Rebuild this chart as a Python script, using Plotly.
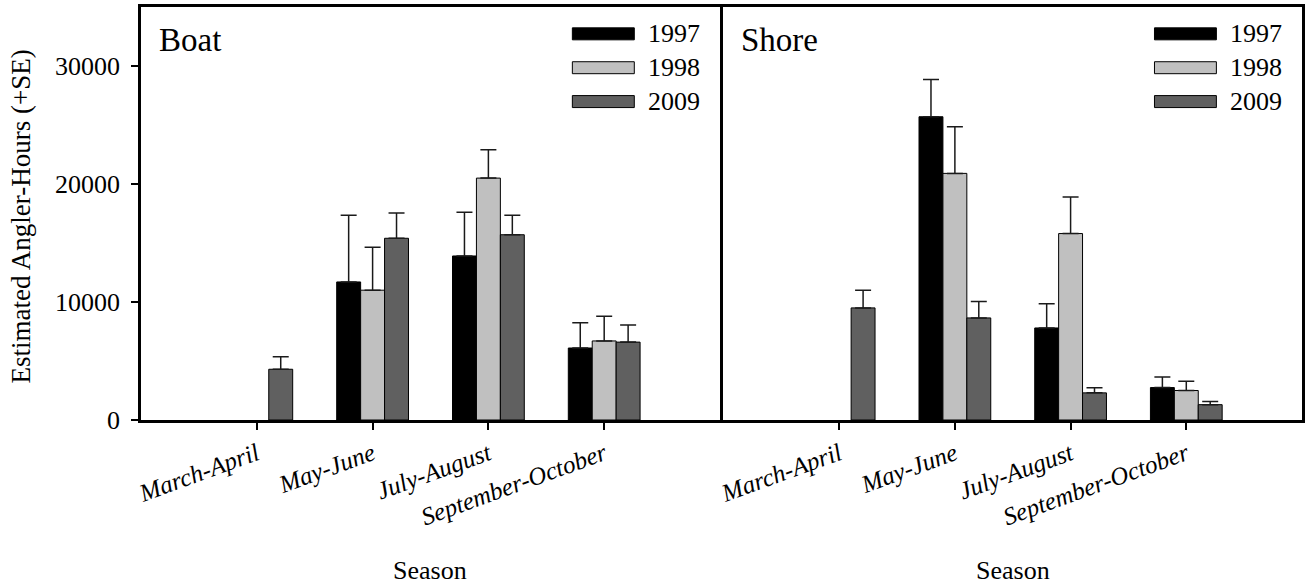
import plotly.graph_objects as go
from plotly.subplots import make_subplots

seasons = ["March-April", "May-June", "July-August", "September-October"]
years = ["1997", "1998", "2009"]
colors = ["#000000", "#c0c0c0", "#606060"]

# Boat: estimated angler-hours and SE
boat_1997 = [None, 11700, 13900, 6100]
boat_1998 = [None, 11000, 20500, 6700]
boat_2009 = [4300, 15400, 15700, 6600]
boat_se_1997 = [0, 5650, 3700, 2150]
boat_se_1998 = [0, 3650, 2400, 2100]
boat_se_2009 = [1050, 2150, 1650, 1450]

# Shore
shore_1997 = [None, 25700, 7800, 2750]
shore_1998 = [None, 20900, 15800, 2500]
shore_2009 = [9500, 8650, 2300, 1300]
shore_se_1997 = [0, 3150, 2050, 900]
shore_se_1998 = [0, 3950, 3100, 790]
shore_se_2009 = [1500, 1400, 430, 260]

y_ticks = [0, 10000, 20000, 30000]
y_ticktext = ["0", "10000", "20000", "30000"]

FONT = "Liberation Serif, Times New Roman, serif"

fig = make_subplots(rows=1, cols=2, shared_yaxes=True, horizontal_spacing=0.003)

panels = [
  ([boat_1997, boat_1998, boat_2009], [boat_se_1997, boat_se_1998, boat_se_2009]),
  ([shore_1997, shore_1998, shore_2009], [shore_se_1997, shore_se_1998, shore_se_2009]),
]

for col, (vals, ses) in enumerate(panels, start=1):
  for yr, c, v, se in zip(years, colors, vals, ses):
    fig.add_trace(go.Bar(x=seasons, y=v, name=yr, marker_color=c,
                         marker_line=dict(color="#000000", width=1),
                         error_y=dict(type="data", array=se, arrayminus=[0] * len(se),
                                      symmetric=False, color="#1a1a1a",
                                      thickness=1.5, width=8),
                         showlegend=False),
                  row=1, col=col)

axis_style = dict(showline=True, linecolor="black", linewidth=2.5, mirror=True,
                  showgrid=False, zeroline=False)

fig.update_xaxes(**axis_style, range=[-1, 4], ticks="outside", ticklen=7, tickwidth=2,
                 tickcolor="black", tickangle=-20,
                 tickfont=dict(family=FONT, size=25, color="black", style="italic"))
fig.update_xaxes(domain=[0, 0.4987], row=1, col=1)
fig.update_xaxes(domain=[0.5017, 1], row=1, col=2)
fig.update_yaxes(**axis_style, range=[0, 35000])
fig.update_yaxes(tickvals=y_ticks, ticktext=y_ticktext, ticks="outside", ticklen=7, tickwidth=2,
                 tickcolor="black", ticklabelstandoff=6,
                 tickfont=dict(family=FONT, size=26, color="black"), row=1, col=1)
fig.update_yaxes(ticks="", showticklabels=False, row=1, col=2)

# legend boxes and panel labels
for xa, ya, label in [("x", "y", "Boat"), ("x2", "y2", "Shore")]:
  fig.add_annotation(text=label, xref=xa + " domain", yref=ya + " domain", x=0.027, y=0.92,
                     xanchor="left", yanchor="middle", showarrow=False,
                     font=dict(family=FONT, size=33, color="black"))
  for i, (yr, c) in enumerate(zip(years, colors)):
    yc = 0.935 - i * 0.082
    fig.add_shape(type="rect", xref=xa + " domain", yref=ya + " domain",
                  x0=0.745, x1=0.852, y0=yc - 0.0145, y1=yc + 0.0145,
                  fillcolor=c, line=dict(color="black", width=1))
    fig.add_annotation(text=yr, xref=xa + " domain", yref=ya + " domain", x=0.872, y=yc,
                       xanchor="left", yanchor="middle", showarrow=False,
                       font=dict(family=FONT, size=26, color="black"))

# axis titles
fig.add_annotation(text="Estimated Angler-Hours (+SE)", xref="paper", yref="paper",
                   x=-0.103, y=0.494, textangle=-90, showarrow=False,
                   xanchor="center", yanchor="middle",
                   font=dict(family=FONT, size=27, color="black"))
for xc in [0.249, 0.751]:
  fig.add_annotation(text="Season", xref="paper", yref="paper", x=xc, y=-0.365,
                     showarrow=False, xanchor="center", yanchor="middle",
                     font=dict(family=FONT, size=26, color="black"))

fig.update_layout(width=1307, height=588, barmode="group", bargap=0.38, bargroupgap=0,
                  margin=dict(l=141, r=2, t=7, b=168),
                  plot_bgcolor="white", paper_bgcolor="white",
                  font=dict(family=FONT, color="black"))

fig.write_html("out.html", config={"displayModeBar": False},
               post_script="document.body.style.margin = '0';")
